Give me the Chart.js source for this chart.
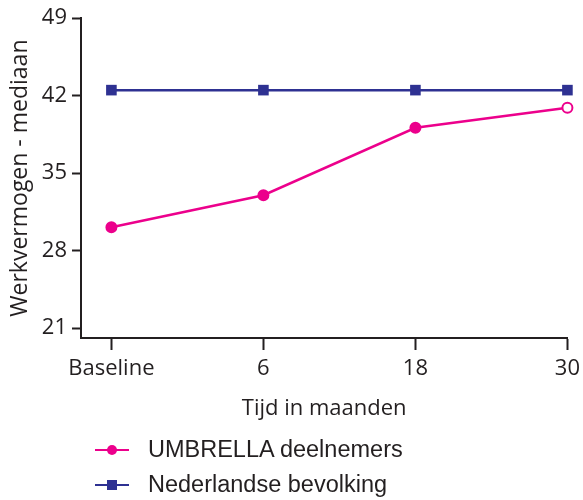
<!DOCTYPE html>
<html>
<head>
<meta charset="utf-8">
<script src="https://cdn.jsdelivr.net/npm/chart.js@4/dist/chart.umd.min.js"></script>
<style>
  html, body { margin: 0; padding: 0; background: #fff; }
  #wrap { position: relative; width: 583px; height: 500px; overflow: hidden; }
  #legend { position: absolute; left: 95px; top: 432px; font-family: "Liberation Sans", Arial, sans-serif; font-size: 23.5px; color: #231f20; }
  .item { display: flex; align-items: center; height: 35px; }
  .sym { position: relative; width: 34px; height: 20px; margin-right: 19px; }
  .sym .ln { position: absolute; left: 0; right: 0; top: 9px; height: 2px; }
  .sym .mk { position: absolute; left: 12px; top: 5px; width: 10px; height: 10px; }
</style>
</head>
<body>
<div id="wrap">
  <canvas id="chart" width="586" height="500"></canvas>
  <div id="legend"></div>
</div>
<script>
const categories = ['Baseline', '6', '18', '30'];
const umbrella = [30.1, 33.0, 39.1, 40.9];
const bevolking = [42.5, 42.5, 42.5, 42.5];
const yTicks = [21, 28, 35, 42, 49];

const PINK = '#ec008c';
const BLUE = '#2e3192';
const INK = '#231f20';
const axisFont = { family: '"Open Sans", sans-serif', size: 22 };

const series = [
  { label: 'UMBRELLA deelnemers', values: umbrella, color: PINK, shape: 'circle' },
  { label: 'Nederlandse bevolking', values: bevolking, color: BLUE, shape: 'rect' }
];

const datasets = series.map(s => ({
  label: s.label,
  data: s.values.map((v, i) => ({ x: i, y: v })),
  clip: false,
  borderColor: s.color,
  borderWidth: 2.5,
  pointStyle: s.shape,
  pointRadius: s.shape === 'rect' ? 7.5 : 5,
  pointBorderWidth: s.shape === 'rect' ? 0 : 2,
  pointBorderColor: s.color,
  // last UMBRELLA point is drawn open
  pointBackgroundColor: s.values.map((v, i) =>
    s.shape === 'circle' && i === s.values.length - 1 ? '#fff' : s.color)
}));

new Chart(document.getElementById('chart').getContext('2d'), {
  type: 'line',
  data: { datasets: datasets },
  options: {
    responsive: false,
    animation: false,
    layout: { padding: { top: 15, right: 14, bottom: 67, left: 0 } },
    plugins: { legend: { display: false }, tooltip: { enabled: false } },
    scales: {
      x: {
        type: 'linear',
        min: -0.2,
        max: 3,
        afterBuildTicks: scale => { scale.ticks = categories.map((c, i) => ({ value: i })); },
        afterFit: scale => { scale.height = 95; },
        ticks: { callback: v => categories[v], color: INK, font: axisFont, padding: 6, maxRotation: 0, autoSkip: false },
        grid: { drawOnChartArea: false, tickLength: 12, tickWidth: 2, color: INK },
        border: { color: INK, width: 2 },
        title: { display: true, text: 'Tijd in maanden', color: INK, font: axisFont, padding: { top: 11, bottom: 11 } }
      },
      y: {
        min: 20.1,
        max: 49,
        afterBuildTicks: scale => { scale.ticks = yTicks.map(v => ({ value: v })); },
        afterFit: scale => { scale.width = 81; },
        ticks: { color: INK, font: axisFont, padding: 5 },
        grid: { drawOnChartArea: false, tickLength: 9, tickWidth: 2, color: INK },
        border: { color: INK, width: 2 },
        title: { display: true, text: 'Werkvermogen - mediaan', color: INK, font: { family: '"Open Sans", sans-serif', size: 23 }, padding: { top: 7, bottom: 7 } }
      }
    }
  }
});

// legend below the chart, one item per line
const legend = document.getElementById('legend');
series.forEach(s => {
  const item = document.createElement('div');
  item.className = 'item';
  const sym = document.createElement('div');
  sym.className = 'sym';
  const ln = document.createElement('div');
  ln.className = 'ln';
  ln.style.background = s.color;
  const mk = document.createElement('div');
  mk.className = 'mk';
  mk.style.background = s.color;
  if (s.shape === 'circle') mk.style.borderRadius = '50%';
  sym.appendChild(ln);
  sym.appendChild(mk);
  const txt = document.createElement('span');
  txt.textContent = s.label;
  item.appendChild(sym);
  item.appendChild(txt);
  legend.appendChild(item);
});
</script>
</body>
</html>
